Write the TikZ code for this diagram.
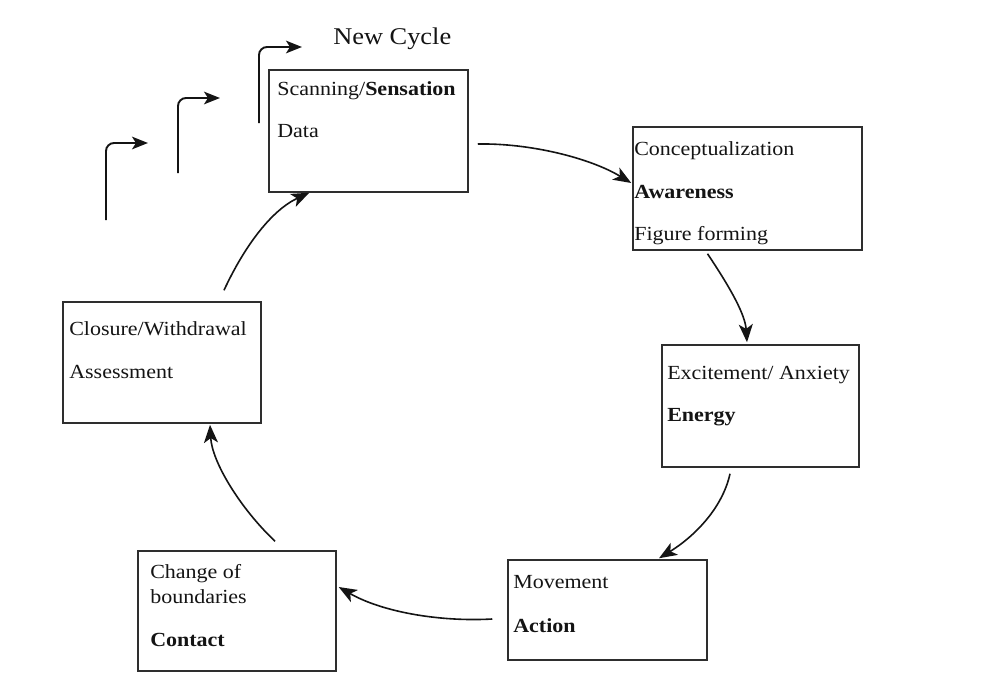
\documentclass[tikz,border=0pt]{standalone}
\usepackage{fontspec}
\setmainfont[FakeStretch=1.1]{Liberation Serif}
\usetikzlibrary{arrows.meta,calc}
\definecolor{ink}{HTML}{141414}
\definecolor{frame}{HTML}{2E2E2E}
\tikzset{
  box/.style={draw=frame, line width=1.5pt*0.75, inner sep=0pt, rectangle},
  lbl/.style={anchor=base west, inner sep=0pt, text=ink, font=\fontsize{15}{18}\selectfont},
  arr/.style={draw=ink, line width=1.6pt*0.75, -{Stealth[length=13.5pt,width=10.5pt,inset=3.5pt]}},
  steparr/.style={draw=ink, line width=1.9pt*0.75, rounded corners=6pt, -{Stealth[length=12pt,width=9.5pt,inset=3pt]}}
}
\begin{document}
\begin{tikzpicture}[x=0.75pt,y=-0.75pt]
\useasboundingbox (0,0) rectangle (992,686);
\fill[white] (0,0) rectangle (992,686);

% boxes
\node[box, minimum width=199*0.75pt, minimum height=122*0.75pt] (scan) at (368.5,131) {};
\node[box, minimum width=229*0.75pt, minimum height=123*0.75pt] (concept) at (747.5,188.5) {};
\node[box, minimum width=197*0.75pt, minimum height=122*0.75pt] (excite) at (760.5,406) {};
\node[box, minimum width=199*0.75pt, minimum height=100*0.75pt] (move) at (607.5,610) {};
\node[box, minimum width=198*0.75pt, minimum height=120*0.75pt] (change) at (237,611) {};
\node[box, minimum width=198*0.75pt, minimum height=121*0.75pt] (closure) at (162,362.5) {};

% texts
\node[lbl] (t1a) at (277,95) {Scanning/\textbf{Sensation}};
\node[lbl] (t1b) at (277,137) {Data};
\node[lbl] (t2a) at (634,155) {Conceptualization};
\node[lbl] (t2b) at (634,198) {\textbf{Awareness}};
\node[lbl] (t2c) at (634,240) {Figure forming};
\node[lbl] (t3a) at (667,379) {Excitement/ Anxiety};
\node[lbl] (t3b) at (667,421) {\textbf{Energy}};
\node[lbl] (t4a) at (513,588) {Movement};
\node[lbl] (t4b) at (513,632) {\textbf{Action}};
\node[lbl] (t5a) at (150,578) {Change of};
\node[lbl] (t5b) at (150,603) {boundaries};
\node[lbl] (t5c) at (150,646) {\textbf{Contact}};
\node[lbl] (t6a) at (69,335) {Closure/Withdrawal};
\node[lbl] (t6b) at (69,378) {Assessment};
\node[lbl, font=\fontsize{18}{21}\selectfont] (newc) at (333,44) {New Cycle};

% cycle arrows
\draw[arr] ($(scan.east)+(9,13)$) .. controls (530,143) and (590,158) .. ($(concept.west)+(-1,-5.5)$);
\draw[arr] ($(concept.south)+(-40,3)$) .. controls (725,280) and (745,312) .. ($(excite.north)+(-13.5,-2)$);
\draw[arr] ($(excite.south)+(-30.5,6)$) .. controls (722,510) and (692,538) .. ($(move.north)+(51.5,-1)$);
\draw[arr] ($(move.west)+(-15,9)$) .. controls (440,622) and (382,612) .. ($(change.east)+(2,-24)$);
\draw[arr] ($(change.north)+(38,-9)$) .. controls (240,508) and (212,462) .. ($(closure.south)+(48,1)$);
\draw[arr] ($(closure.north)+(62,-11)$) .. controls (245,245) and (272,210) .. ($(scan.south west)+(41,0)$);

% new-cycle step arrows
\coordinate (s1a) at (106,220);
\coordinate (s1b) at (148,143);
\coordinate (s2a) at (178,173);
\coordinate (s2b) at (220,98);
\coordinate (s3a) at (259,123);
\coordinate (s3b) at (302,47);
\draw[steparr] (s1a) |- (s1b);
\draw[steparr] (s2a) |- (s2b);
\draw[steparr] (s3a) |- (s3b);
\end{tikzpicture}
\end{document}
